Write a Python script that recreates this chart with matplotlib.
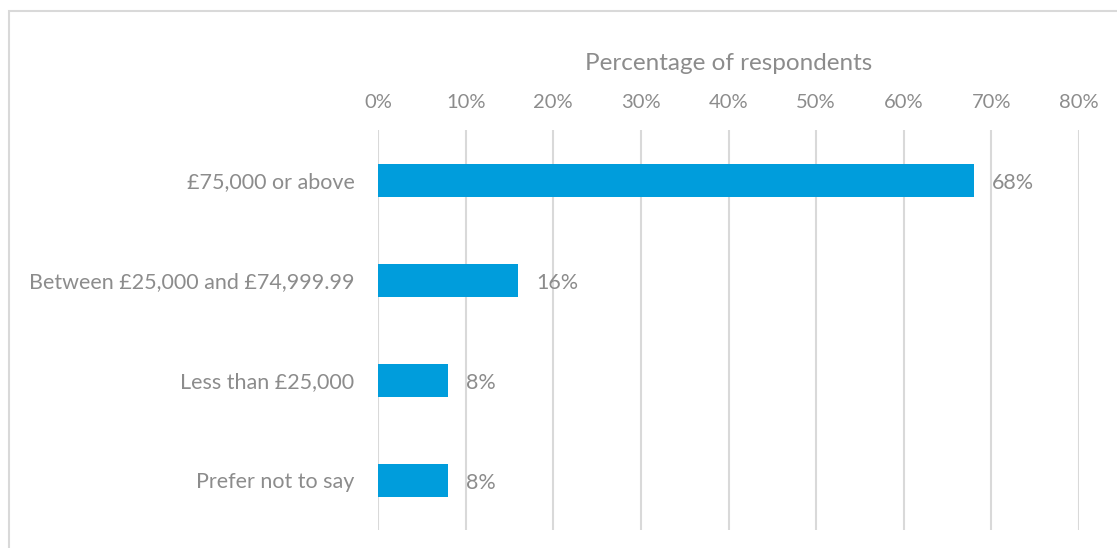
import matplotlib.pyplot as plt
from matplotlib.patches import Rectangle
from matplotlib.ticker import FuncFormatter

# data
categories = ['£75,000 or above', 'Between £25,000 and £74,999.99',
              'Less than £25,000', 'Prefer not to say']
values = [68, 16, 8, 8]
x_ticks = [0, 10, 20, 30, 40, 50, 60, 70, 80]

TEXT = '#8c8c8c'
BAR = '#009DDC'
GRID = '#d9d9d9'

plt.rcParams['font.family'] = ['Lato', 'DejaVu Sans']

fig = plt.figure(figsize=(11.17, 5.48), dpi=100)
fig.patches.append(Rectangle((9 / 1117, -0.1), 1.2, 1 - 11 / 548 + 0.1,
                             transform=fig.transFigure, fill=False,
                             edgecolor=GRID, linewidth=1.5))

ax = fig.add_axes([378 / 1117, 1 - 530 / 548, 701 / 1117, 400 / 548])
y = range(len(categories))
ax.barh(y, values, height=0.33, color=BAR, zorder=3)
ax.set_ylim(len(categories) - 0.5, -0.5)
ax.set_xlim(0, 80)

ax.xaxis.tick_top()
ax.set_xticks(x_ticks)
ax.xaxis.set_major_formatter(FuncFormatter(lambda v, _: f'{v:.0f}%'))
ax.tick_params(axis='x', length=0, labelsize=14.5, labelcolor=TEXT, pad=14)
fig.text(729 / 1117, 1 - 64 / 548, 'Percentage of respondents', ha='center',
         va='center', fontsize=17.5, color=TEXT)

ax.set_yticks(list(y))
ax.set_yticklabels(categories)
ax.tick_params(axis='y', length=0, labelsize=15.5, labelcolor=TEXT, pad=17)

ax.grid(axis='x', color=GRID, linewidth=1.5, zorder=0)
for s in ax.spines.values():
    s.set_visible(False)

for i, v in enumerate(values):
    ax.annotate(f'{v}%', (v, i), xytext=(18, -3), textcoords='offset pixels',
                va='center', ha='left', fontsize=15.5, color=TEXT)

fig.savefig('out.png', dpi=100)
